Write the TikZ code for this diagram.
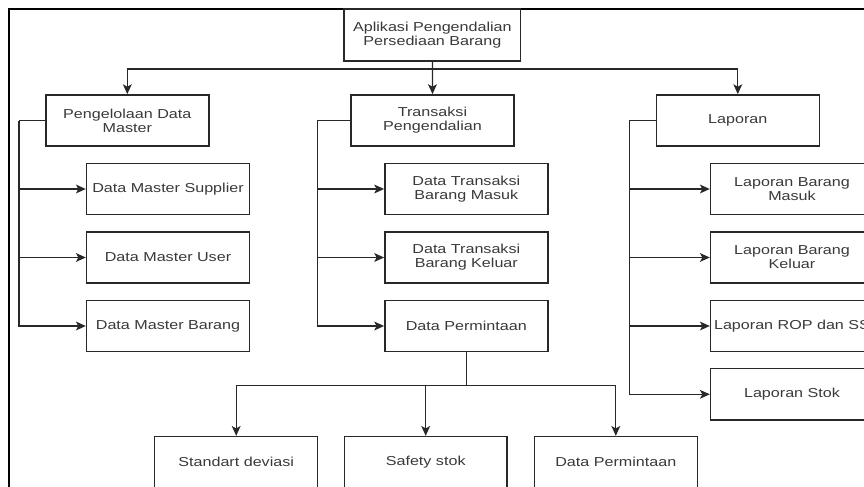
\documentclass[tikz,border=0pt]{standalone}
\usepackage{fontspec}
\setmainfont{Liberation Sans}[FakeStretch=1.24]
\usetikzlibrary{arrows.meta}
\definecolor{inkline}{RGB}{40,40,40}
\definecolor{inktext}{RGB}{58,58,58}
\tikzset{
  box/.style={draw=inkline, line width=1.1pt, fill=white, text=inktext,
    align=center, inner sep=1pt,
    minimum width=122.2pt, minimum height=38.4pt,
    font=\fontsize{9.75pt}{10.4pt}\selectfont},
  link/.style={draw=inkline, line width=0.95pt,
    -{Stealth[length=7.4pt, width=6.6pt, inset=1.8pt]}},
  plain/.style={draw=inkline, line width=0.95pt},
  frame/.style={draw=black, line width=1.4pt}
}
\begin{document}
\begin{tikzpicture}[x=0.75pt, y=-0.75pt]
  \useasboundingbox (0,0) rectangle (864,486);
  \clip (0,0) rectangle (864,486);

  % outer frame (extends past the right and bottom edges)
  \draw[frame] (9,9) rectangle (920,540);

  % root
  \node[box, minimum width=132.5pt, minimum height=39pt] (root) at (432.4,35)
    {Aplikasi Pengendalian\\Persediaan Barang};

  % first level
  \node[box] (h1) at (127.3,120.5) {Pengelolaan Data\\Master};
  \node[box] (h2) at (432.5,120.5) {Transaksi\\Pengendalian};
  \node[box] (h3) at (737.8,120.5) {Laporan};

  % master data
  \node[box] (c11) at (168,189)   {Data Master Supplier};
  \node[box] (c12) at (168,257.5) {Data Master User};
  \node[box] (c13) at (168,326)   {Data Master Barang};

  % transactions
  \node[box] (c21) at (466.3,189)   {Data Transaksi\\Barang Masuk};
  \node[box] (c22) at (466.3,257.5) {Data Transaksi\\Barang Keluar};
  \node[box] (c23) at (466.3,326)   {Data Permintaan};

  % reports
  \node[box] (c31) at (792,189)   {Laporan Barang\\Masuk};
  \node[box] (c32) at (792,257.5) {Laporan Barang\\Keluar};
  \node[box] (c33) at (792,326)   {Laporan ROP dan SS};
  \node[box] (c34) at (792,394.3) {Laporan Stok};

  % request breakdown
  \node[box] (b1) at (236.2,462.2) {Standart deviasi};
  \node[box] (b2) at (425.7,462.2) {Safety stok};
  \node[box] (b3) at (615.8,462.2) {Data Permintaan};

  % root to first level
  \coordinate (j1) at (432.4,69);
  \draw[link] (root.south) -- (h2.north);
  \draw[link] (j1) -| (h1.north);
  \draw[link] (j1) -| (h3.north);

  % side buses
  \coordinate (v1) at (19,120.5);
  \coordinate (v2) at (317.3,120.5);
  \coordinate (v3) at (629.3,120.5);
  \draw[plain] (h1.west) -- (v1);
  \draw[plain] (h2.west) -- (v2);
  \draw[plain] (h3.west) -- (v3);
  \draw[link] (v1) |- (c11.west);
  \draw[link] (v1) |- (c12.west);
  \draw[link] (v1) |- (c13.west);
  \draw[link] (v2) |- (c21.west);
  \draw[link] (v2) |- (c22.west);
  \draw[link] (v2) |- (c23.west);
  \draw[link] (v3) |- (c31.west);
  \draw[link] (v3) |- (c32.west);
  \draw[link] (v3) |- (c33.west);
  \draw[link] (v3) |- (c34.west);

  % request to its parts
  \coordinate (j2) at (466.3,385.7);
  \draw[plain] (c23.south) -- (j2);
  \draw[link] (j2) -| (b1.north);
  \draw[link] (j2) -| (b2.north);
  \draw[link] (j2) -| (b3.north);
\end{tikzpicture}
\end{document}
